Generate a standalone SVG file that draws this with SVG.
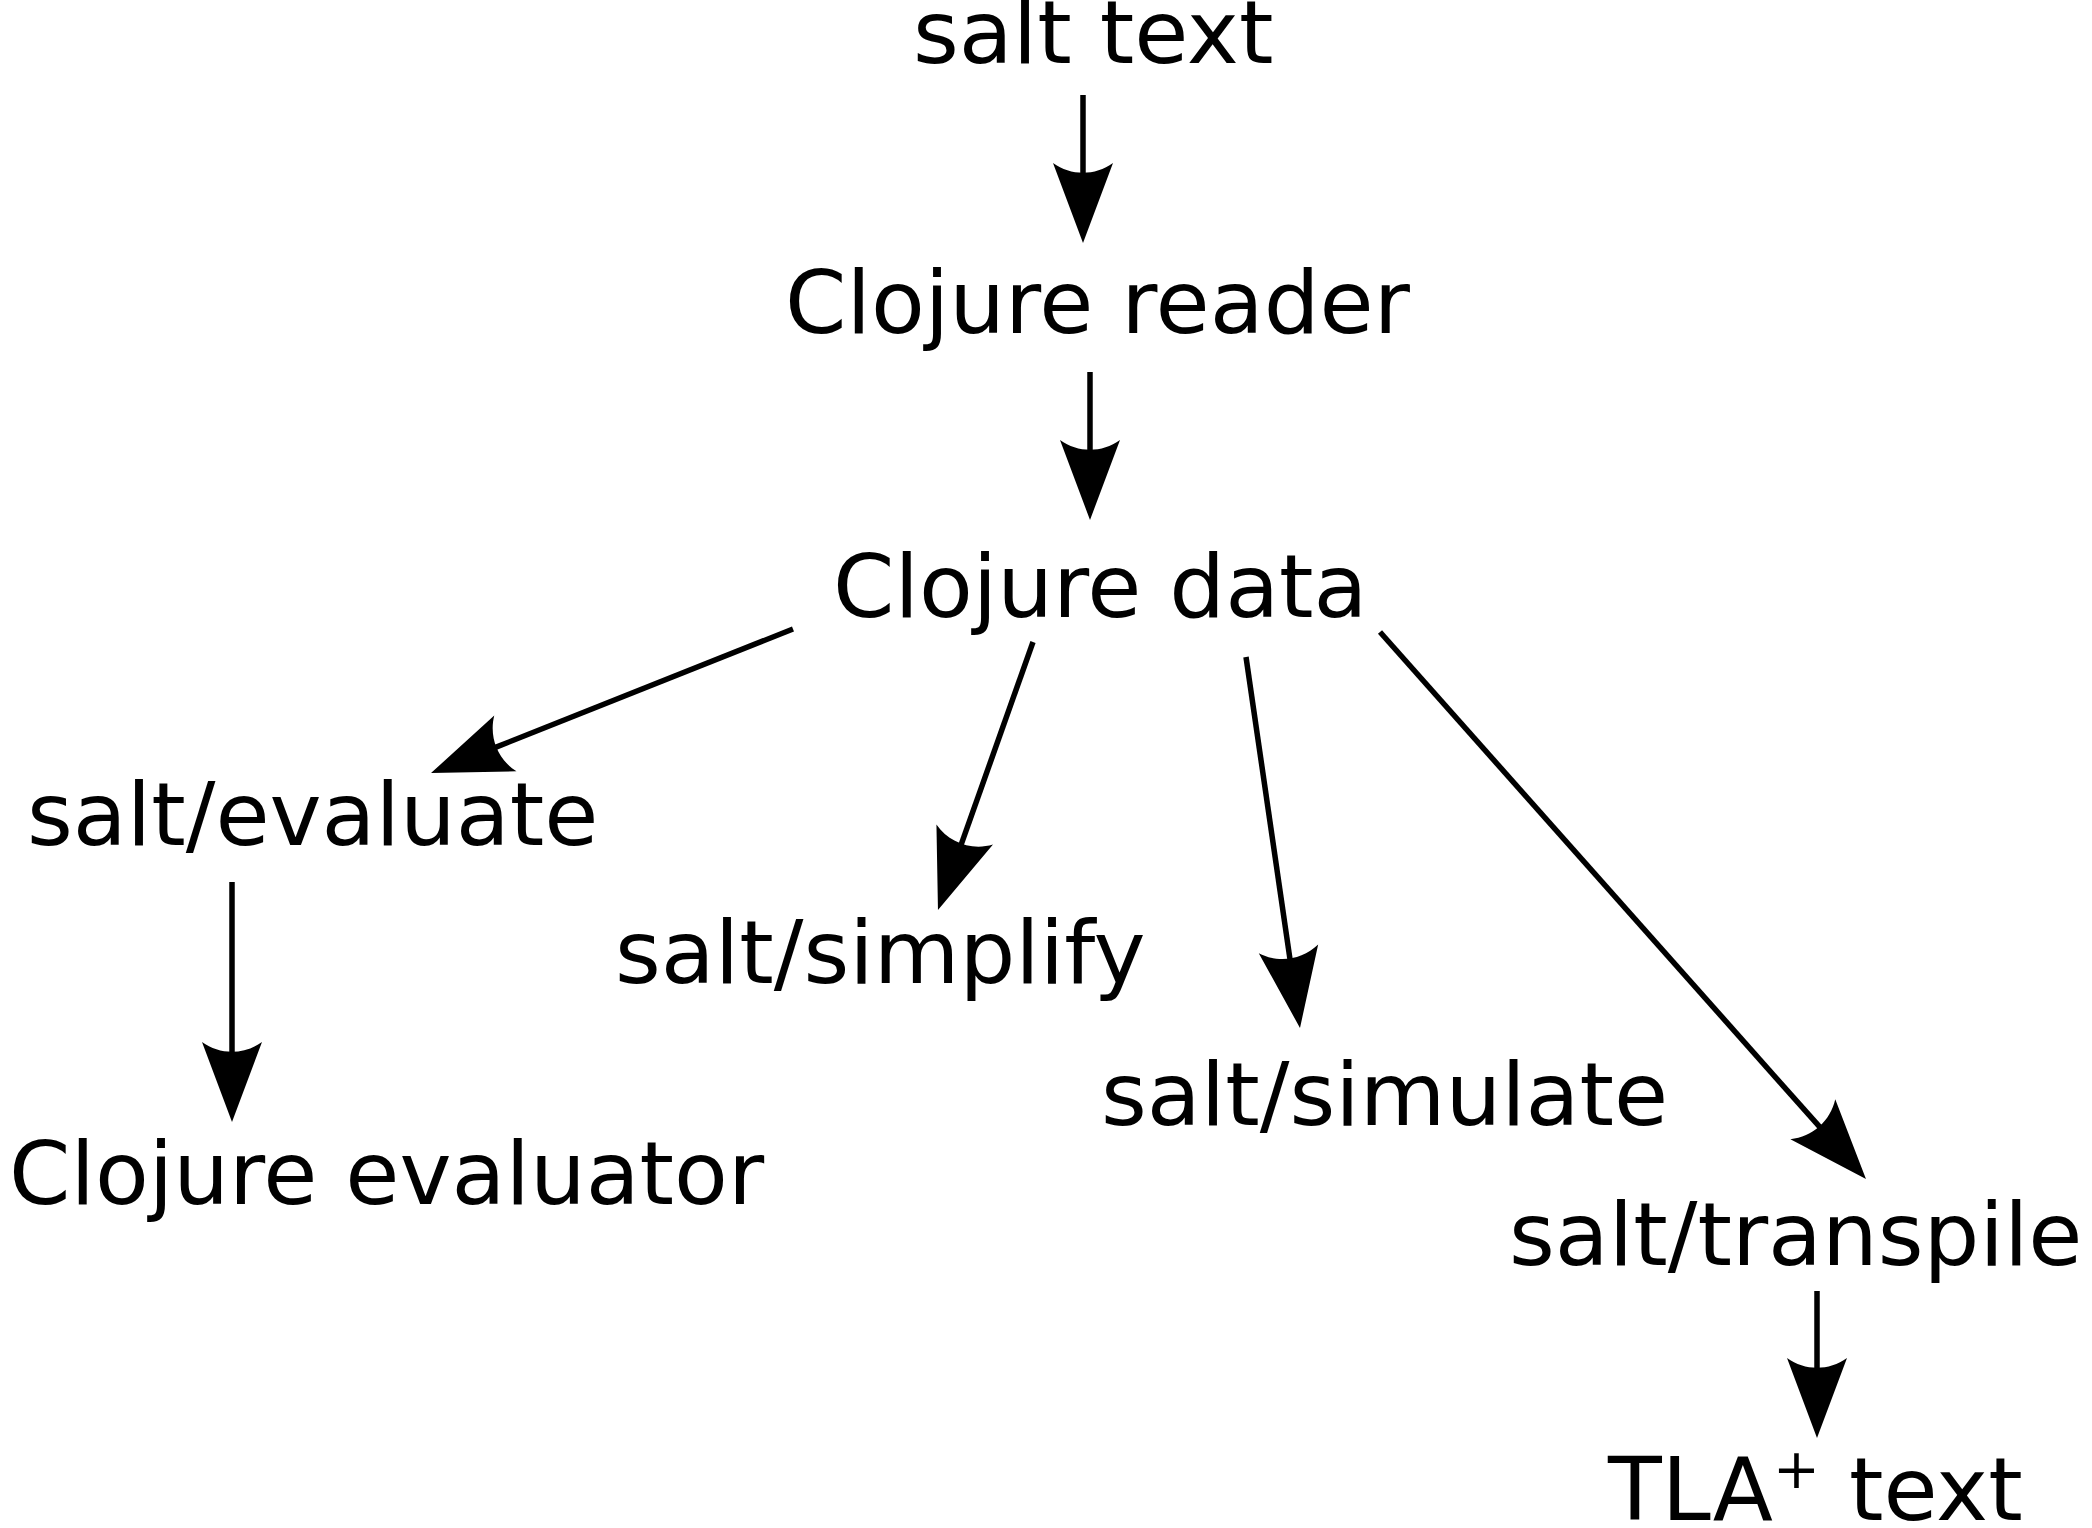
<svg xmlns="http://www.w3.org/2000/svg" width="2092" height="1528" viewBox="0 0 2092 1528">
<style>
.t{font-family:"DejaVu Sans","Liberation Sans",sans-serif;font-size:88px;fill:#000}
.c{stroke:#000;stroke-width:5.5;fill:none;marker-end:url(#ah)}
</style>
<defs>
<marker id="ah" markerUnits="userSpaceOnUse" orient="auto" refX="0" refY="0" markerWidth="200" markerHeight="200" viewBox="-100 -100 200 200" overflow="visible">
<path d="M68,0 L-12,-30 C1,-12 1,12 -12,30 Z" fill="#000"/>
</marker>
</defs>
<rect width="2092" height="1528" fill="#fff"/>
<g id="connectors">
<line class="c" x1="1083" y1="95" x2="1083" y2="175"/>
<line class="c" x1="1090" y1="372" x2="1090" y2="452"/>
<line class="c" x1="793" y1="629" x2="494.2" y2="747.9"/>
<line class="c" x1="1033" y1="642" x2="960.7" y2="845.9"/>
<line class="c" x1="1246" y1="657" x2="1290.2" y2="960.7"/>
<line class="c" x1="1380" y1="632" x2="1820.8" y2="1128.2"/>
<line class="c" x1="232" y1="882" x2="232" y2="1054"/>
<line class="c" x1="1817" y1="1291" x2="1817" y2="1370"/>
</g>
<g id="salt-text"><text class="t" x="913" y="63">salt text</text></g>
<g id="clojure-reader"><text class="t" x="785" y="333">Clojure reader</text></g>
<g id="clojure-data"><text class="t" x="833" y="617">Clojure data</text></g>
<g id="salt-evaluate"><text class="t" x="27" y="845">salt/evaluate</text></g>
<g id="clojure-evaluator"><text class="t" x="9" y="1204">Clojure evaluator</text></g>
<g id="salt-simplify"><text class="t" x="615" y="983">salt/simplify</text></g>
<g id="salt-simulate"><text class="t" x="1101" y="1125">salt/simulate</text></g>
<g id="salt-transpile"><text class="t" x="1509" y="1265">salt/transpile</text></g>
<g id="tla-text"><text class="t" x="1608" y="1520">TLA<tspan font-size="56" dy="-32">+</tspan> <tspan x="1849" dy="32">text</tspan></text></g>
</svg>
